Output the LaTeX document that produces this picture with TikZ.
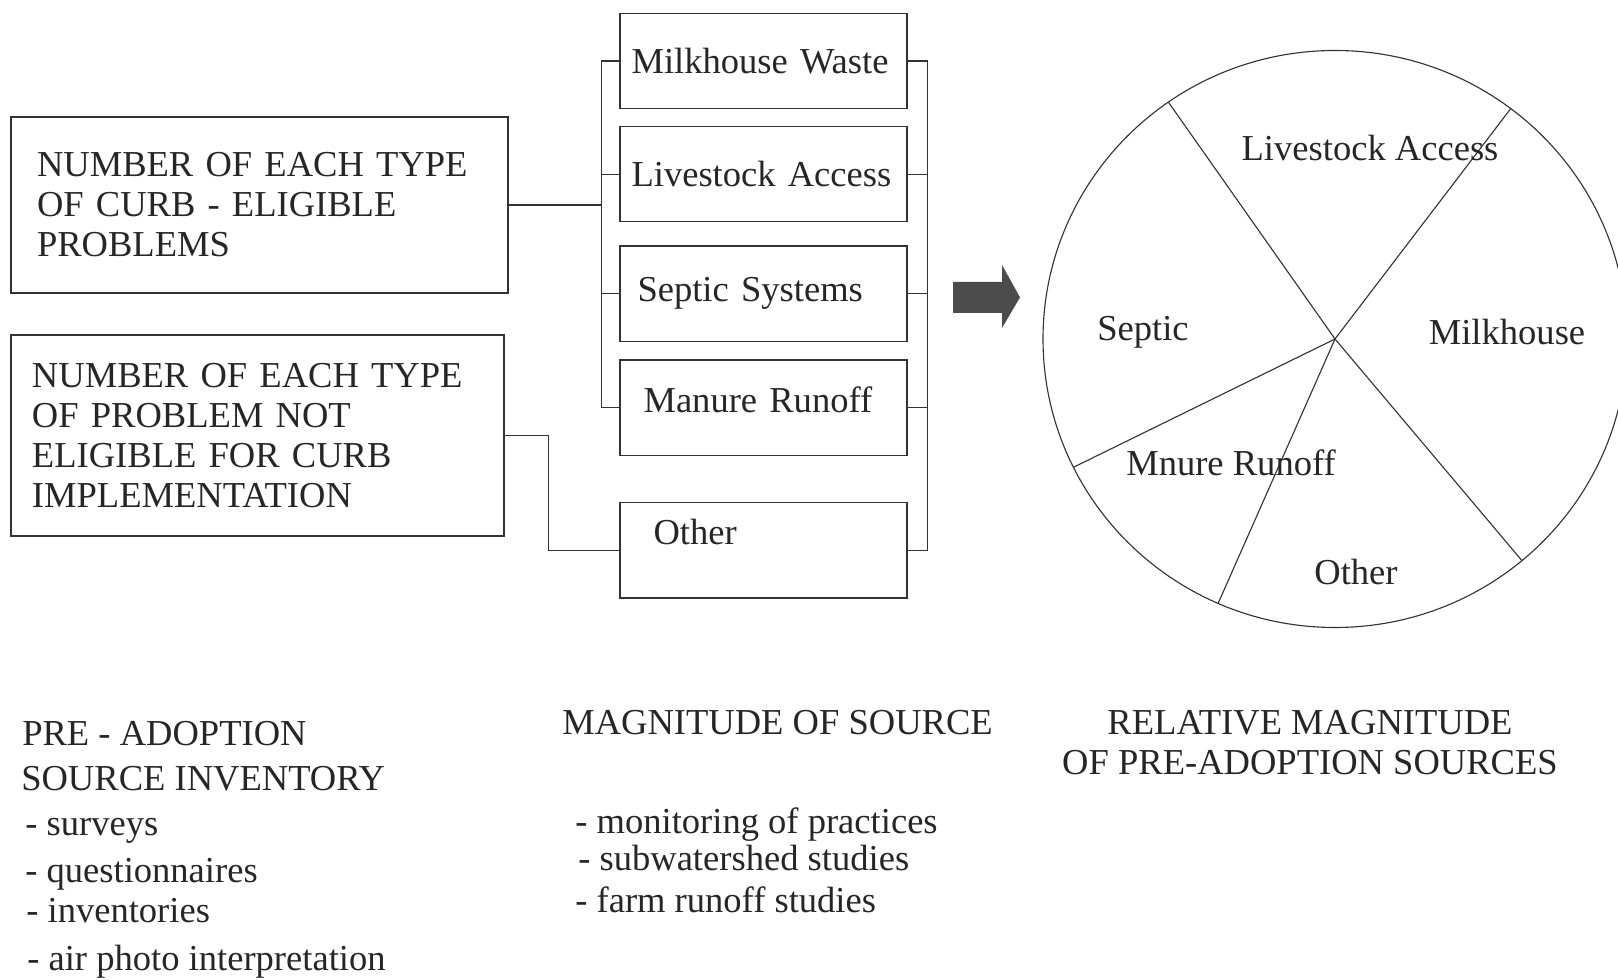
\documentclass[tikz,border=0pt]{standalone}
\usepackage{fontspec}
\setmainfont{Liberation Serif}
\usepackage{tikz}
\usetikzlibrary{calc}

\begin{document}
\begin{tikzpicture}[
        every node/.style={font=\fontsize{26pt}{28.45pt}\selectfont, text=black!85},
        countbox/.style={draw=black!80, line width=1pt, align=left, inner sep=0pt},
        srcbox/.style={draw=black!80, line width=1pt, minimum width=7.175cm, minimum height=2.38cm, text width=6.6cm, align=left, inner sep=0pt},
        link/.style={draw=black!80, line width=0.9pt},
        pieline/.style={draw=black!80, line width=0.8pt},
        caption/.style={anchor=base west, inner sep=0pt}
    ]
        \useasboundingbox (0,0) rectangle (40.45,24.475);

        % problem counts
        \node[countbox, minimum width=12.425cm, minimum height=4.4cm, text width=11.125cm] (elig) at (6.4875,19.35) {NUMBER OF EACH TYPE\\OF CURB - ELIGIBLE\\PROBLEMS};
        \node[countbox, minimum width=12.325cm, minimum height=5.025cm, text width=11.275cm] (notelig) at (6.4375,13.5875) {NUMBER OF EACH TYPE\\OF PROBLEM NOT\\ELIGIBLE FOR CURB\\IMPLEMENTATION};

        % sources
        \node[srcbox] (milk) at (19.0875,22.95) {Milkhouse Waste};
        \node[srcbox] (live) at (19.0875,20.12) {Livestock Access};
        \node[srcbox] (sept) at (19.0875,17.13) {\hspace*{0.15cm}Septic Systems};
        \node[srcbox] (manure) at (19.0875,14.28) {\hspace*{0.3cm}\raisebox{0.4cm}{Manure Runoff}};
        \node[srcbox] (other) at (19.0875,10.72) {\hspace*{0.55cm}\raisebox{0.9cm}{Other}};

        \coordinate (lbus) at (15.04,0);
        \coordinate (rbus) at (23.19,0);

        \draw[link] (milk.west) -| (lbus |- manure.west) -- (manure.west);
        \draw[link] (live.west) -- (live.west -| lbus);
        \draw[link] (sept.west) -- (sept.west -| lbus);
        \draw[link] (elig.east) -- (elig.east -| lbus);
        \draw[link] (notelig.east) -- ++(1.1,0) |- (other.west);

        \draw[link] (milk.east) -| (rbus |- other.east) -- (other.east);
        \draw[link] (live.east) -- (live.east -| rbus);
        \draw[link] (sept.east) -- (sept.east -| rbus);
        \draw[link] (manure.east) -- (manure.east -| rbus);

        % block arrow
        \fill[black!70] (23.825,17.425) -- (25.05,17.425) -- (25.05,17.85) -- (25.5,17.04)
            -- (25.05,16.275) -- (25.05,16.65) -- (23.825,16.65) -- cycle;

        % pie
        \coordinate (pc) at (33.375,16);
        \draw[pieline] (pc) ellipse (7.3cm and 7.2125cm);
        \foreach \ang in {124.8,53,309.8,206.4,246.4}
            \draw[pieline] (pc) -- ++(\ang:7.3cm and 7.2125cm);

        \node (pielive) at (34.25,20.775) {Livestock Access};
        \node (piesept) at (28.575,16.175) {Septic};
        \node (piemilk) at (37.675,16.175) {Milkhouse};
        \node (piemanure) at (30.775,12.9) {Mnure Runoff};
        \node (pieother) at (33.9,10.175) {Other};

        % captions
        \node[caption] (inv1) at (0.55,5.85) {PRE - ADOPTION};
        \node[caption] (inv2) at (0.525,4.725) {SOURCE INVENTORY};
        \node[caption] (inv3) at (0.625,3.6) {- surveys};
        \node[caption] (inv4) at (0.625,2.425) {- questionnaires};
        \node[caption] (inv5) at (0.65,1.425) {- inventories};
        \node[caption] (inv6) at (0.675,0.225) {- air photo interpretation};

        \node[caption] (mag1) at (14.05,6.1) {MAGNITUDE OF SOURCE};
        \node[caption] (mag2) at (14.375,3.65) {- monitoring of practices};
        \node[caption] (mag3) at (14.45,2.725) {- subwatershed studies};
        \node[caption] (mag4) at (14.375,1.675) {- farm runoff studies};

        \node[align=center] (relmag) at (32.75,5.9) {RELATIVE MAGNITUDE\\OF PRE-ADOPTION SOURCES};

\end{tikzpicture}
\end{document}
